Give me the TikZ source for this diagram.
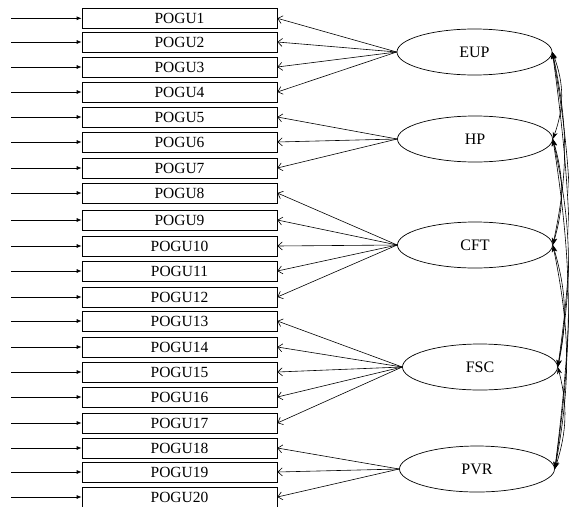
\documentclass[tikz,border=0pt]{standalone}
\usepackage{fontspec}
\setmainfont{Liberation Serif}
\usetikzlibrary{arrows.meta,shapes.geometric}
\begin{document}
\begin{tikzpicture}[x=1pt,y=1pt,
 obs/.style={draw, line width=0.7pt, minimum width=195pt, minimum height=20pt, inner sep=0pt, font=\fontsize{15.5}{17}\selectfont},
 lat/.style={draw, ellipse, line width=0.7pt, minimum width=155pt, minimum height=46pt, inner sep=0pt, font=\fontsize{16}{18}\selectfont},
 err/.style={-{Latex[length=5pt,width=4pt]}, line width=0.7pt},
 load/.style={-{Straight Barb[length=4.5pt,width=8pt]}, line width=0.6pt},
 cov/.style={{Stealth[length=7pt,width=5pt]}-{Stealth[length=7pt,width=5pt]}, line width=0.6pt}]
\useasboundingbox (0,0) rectangle (569,-506);
\foreach \i/\y in {1/18.3,2/42,3/67,4/92,5/117,6/142,7/168,8/193,9/220,10/246,11/271,12/297,13/321,14/347,15/372,16/397,17/423,18/448,19/472,20/497} {
 \node[obs] (p\i) at (179.5,-\y) {POGU\i};
 \coordinate (e\i) at (11,-\y);
 \draw[err] (e\i) -- (p\i.west);
}
\node[lat] (EUP) at (474.5,-52) {EUP};
\node[lat] (HP) at (475,-139) {HP};
\node[lat] (CFT) at (475,-245) {CFT};
\node[lat] (FSC) at (480,-367) {FSC};
\node[lat] (PVR) at (477,-469) {PVR};
\foreach \i in {1,...,4} \draw[load] (EUP.west) -- (p\i.east);
\foreach \i in {5,...,7} \draw[load] (HP.west) -- (p\i.east);
\foreach \i in {8,...,12} \draw[load] (CFT.west) -- (p\i.east);
\foreach \i in {13,...,17} \draw[load] (FSC.west) -- (p\i.east);
\foreach \i in {18,...,20} \draw[load] (PVR.west) -- (p\i.east);
\draw[cov] (EUP.east) to[bend left=20] (HP.east);
\draw[cov] (HP.east) to[bend left=16] (CFT.east);
\draw[cov] (CFT.east) to[bend left=14] (FSC.east);
\draw[cov] (FSC.east) to[bend left=16] (PVR.east);
\draw[cov] (EUP.east) to[bend left=12] (CFT.east);
\draw[cov] (HP.east) to[bend left=11] (FSC.east);
\draw[cov] (CFT.east) to[bend left=11] (PVR.east);
\draw[cov] (EUP.east) to[bend left=9] (FSC.east);
\draw[cov] (HP.east) to[bend left=8.5] (PVR.east);
\draw[cov] (EUP.east) to[bend left=7.5] (PVR.east);
\end{tikzpicture}
\end{document}
